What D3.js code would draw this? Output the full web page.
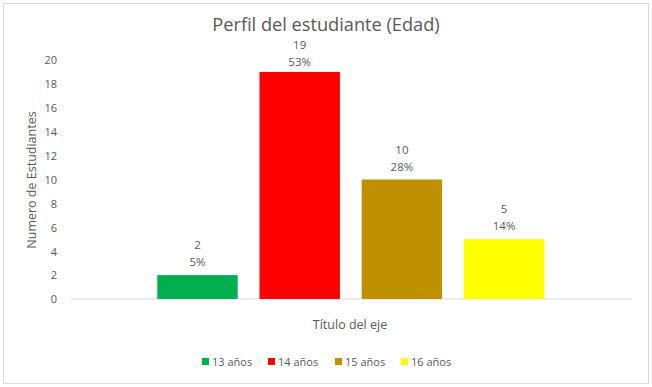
<!DOCTYPE html>
<html><head><meta charset="utf-8">
<script src="https://cdn.jsdelivr.net/npm/d3@7"></script>
<style>
body{margin:0;background:#fff;}
text{font-family:"Open Sans","Noto Sans",sans-serif;fill:#595959;}
</style></head>
<body><svg id="c" width="652" height="387"></svg>
<script>
const series = ["13 años","14 años","15 años","16 años"];
const values = [2,19,10,5];
const percents = ["5%","53%","28%","14%"];
const colors = ["#00b050","#ff0000","#bf9000","#ffff00"];
const yTicks = [0,2,4,6,8,10,12,14,16,18,20];

const svg = d3.select("#c");
svg.append("rect").attr("x",3.5).attr("y",3.5).attr("width",645).attr("height",380)
  .attr("fill","#fff").attr("stroke","#d9d9d9");

const plot = {left:70,right:632,top:60,bottom:299};
const y = d3.scaleLinear().domain([0,20]).range([plot.bottom,plot.top]);
const x = d3.scaleBand().domain(series).range([146.4,555.2]).paddingInner(0.213).paddingOuter(0.1065);

svg.append("text").attr("x",326).attr("y",31).attr("text-anchor","middle")
  .style("font-size","18.2px").text("Perfil del estudiante (Edad)");

const yAxis = d3.axisLeft(y).tickValues(yTicks).tickSize(0).tickPadding(0);
const gy = svg.append("g").attr("transform",`translate(${plot.left-13},0)`).call(yAxis);
gy.select(".domain").remove();
gy.selectAll("text").style("font-size","11px").attr("fill","#595959").attr("dy","0.35em");

svg.append("line").attr("x1",plot.left).attr("x2",plot.right).attr("y1",y(0)).attr("y2",y(0))
  .attr("stroke","#d9d9d9").attr("stroke-width",1);

svg.selectAll("rect.bar").data(values).enter().append("rect").attr("class","bar")
  .attr("x",(d,i)=>x(series[i])).attr("width",x.bandwidth())
  .attr("y",d=>y(d)).attr("height",d=>y(0)-y(d)).attr("fill",(d,i)=>colors[i]);

// label baselines: Excel keeps labels below the title, so clamp
const valY = d => Math.max(y(d)-26, plot.top-11);
const lbl = svg.selectAll("g.lbl").data(values).enter().append("g").attr("class","lbl");
lbl.append("text").attr("x",(d,i)=>x(series[i])+x.bandwidth()/2).attr("y",d=>valY(d))
  .attr("text-anchor","middle").style("font-size","11.5px").text(d=>d);
lbl.append("text").attr("x",(d,i)=>x(series[i])+x.bandwidth()/2).attr("y",d=>valY(d)+17)
  .attr("text-anchor","middle").style("font-size","11.5px").text((d,i)=>percents[i]);

svg.append("text").attr("transform","translate(36,180) rotate(-90)").attr("text-anchor","middle")
  .style("font-size","12.5px").text("Numero de Estudiantes");
svg.append("text").attr("x",350).attr("y",329).attr("text-anchor","middle")
  .style("font-size","12.5px").text("Título del eje");

const legX = [202,268,335,401];
const lg = svg.selectAll("g.leg").data(series).enter().append("g").attr("class","leg")
  .attr("transform",(d,i)=>`translate(${legX[i]},362)`);
lg.append("rect").attr("x",0).attr("y",-4).attr("width",7).attr("height",7).attr("fill",(d,i)=>colors[i]);
lg.append("text").attr("x",10).attr("y",0).attr("dy","0.35em").style("font-size","11px").text(d=>d);
</script></body></html>
